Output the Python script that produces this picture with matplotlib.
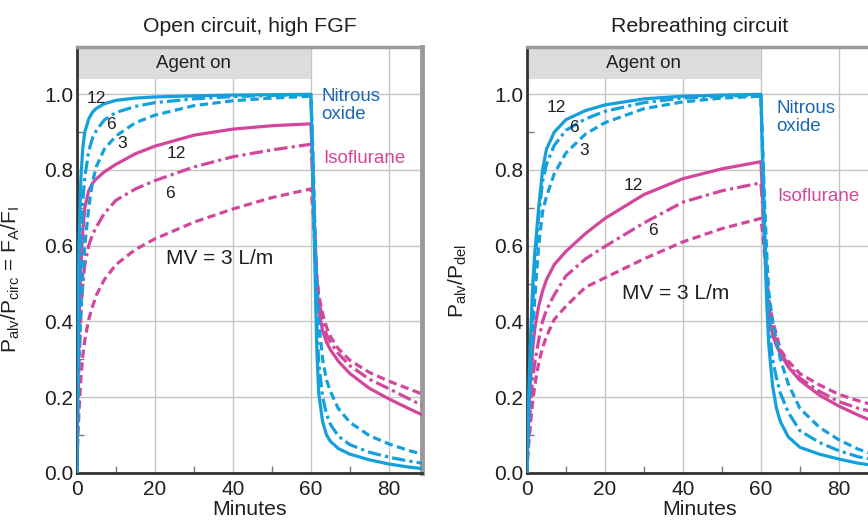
import matplotlib
matplotlib.use("Agg")
import matplotlib.pyplot as plt
from matplotlib.ticker import MultipleLocator

plt.rcParams["font.family"] = ["Liberation Sans", "DejaVu Sans"]
plt.rcParams["mathtext.fontset"] = "custom"
plt.rcParams["mathtext.rm"] = "Liberation Sans"
plt.rcParams["mathtext.it"] = "Liberation Sans:italic"

# minutes: wash-in (agent on until 60) then wash-out
minutes = [0, 0.25, 0.5, 1, 1.5, 2, 3, 4, 5, 7, 10, 15, 20, 30, 40, 50, 60,
           60.5, 61, 61.5, 62, 63, 64, 65, 67, 70, 75, 80, 85, 88.5]

# open circuit, high FGF  (MV = 12, 6, 3 L/min)
open_n2o_12 = [0, 0.42, 0.6, 0.78, 0.86, 0.9, 0.935, 0.953, 0.963, 0.975, 0.984, 0.99, 0.993, 0.996, 0.998, 0.999, 1.0,
               0.8, 0.56, 0.33, 0.21, 0.135, 0.1, 0.083, 0.064, 0.049, 0.034, 0.023, 0.015, 0.011]
open_n2o_6 = [0, 0.3, 0.45, 0.62, 0.72, 0.78, 0.85, 0.885, 0.905, 0.932, 0.952, 0.968, 0.978, 0.988, 0.994, 0.997, 0.999,
              0.82, 0.6, 0.4, 0.29, 0.2, 0.155, 0.128, 0.097, 0.074, 0.054, 0.041, 0.031, 0.025]
open_n2o_3 = [0, 0.2, 0.3, 0.43, 0.53, 0.6, 0.7, 0.77, 0.81, 0.855, 0.89, 0.925, 0.945, 0.97, 0.983, 0.99, 0.995,
              0.85, 0.66, 0.5, 0.4, 0.3, 0.245, 0.215, 0.17, 0.133, 0.098, 0.076, 0.059, 0.049]
open_iso_12 = [0, 0.25, 0.4, 0.55, 0.64, 0.7, 0.745, 0.765, 0.777, 0.795, 0.815, 0.843, 0.863, 0.892, 0.908, 0.917, 0.922,
               0.8, 0.62, 0.5, 0.43, 0.375, 0.345, 0.325, 0.295, 0.262, 0.223, 0.195, 0.17, 0.153]
open_iso_6 = [0, 0.18, 0.28, 0.42, 0.5, 0.55, 0.6, 0.63, 0.65, 0.685, 0.72, 0.75, 0.772, 0.808, 0.835, 0.853, 0.868,
              0.77, 0.63, 0.52, 0.46, 0.4, 0.365, 0.345, 0.315, 0.283, 0.247, 0.222, 0.196, 0.178]
open_iso_3 = [0, 0.1, 0.16, 0.25, 0.31, 0.35, 0.405, 0.44, 0.47, 0.51, 0.55, 0.59, 0.618, 0.662, 0.697, 0.727, 0.75,
              0.7, 0.6, 0.52, 0.47, 0.42, 0.385, 0.36, 0.328, 0.297, 0.265, 0.242, 0.222, 0.208]

# rebreathing circuit
reb_n2o_12 = [0, 0.12, 0.22, 0.38, 0.5, 0.58, 0.7, 0.8, 0.855, 0.9, 0.933, 0.957, 0.972, 0.988, 0.995, 0.998, 1.0,
              0.8, 0.6, 0.45, 0.34, 0.23, 0.17, 0.135, 0.095, 0.067, 0.049, 0.036, 0.025, 0.02]
reb_n2o_6 = [0, 0.1, 0.18, 0.32, 0.44, 0.55, 0.68, 0.77, 0.815, 0.865, 0.905, 0.935, 0.955, 0.978, 0.99, 0.995, 0.998,
             0.82, 0.63, 0.5, 0.4, 0.3, 0.25, 0.21, 0.16, 0.111, 0.08, 0.058, 0.042, 0.035]
reb_n2o_3 = [0, 0.08, 0.15, 0.27, 0.37, 0.46, 0.6, 0.69, 0.73, 0.79, 0.845, 0.895, 0.925, 0.962, 0.98, 0.99, 0.995,
             0.85, 0.7, 0.58, 0.48, 0.4, 0.35, 0.3, 0.235, 0.17, 0.12, 0.087, 0.062, 0.05]
reb_iso_12 = [0, 0.1, 0.17, 0.26, 0.33, 0.38, 0.44, 0.48, 0.51, 0.55, 0.585, 0.632, 0.672, 0.735, 0.777, 0.803, 0.822,
              0.72, 0.6, 0.5, 0.41, 0.365, 0.335, 0.315, 0.28, 0.244, 0.205, 0.176, 0.152, 0.137]
reb_iso_6 = [0, 0.07, 0.12, 0.19, 0.25, 0.29, 0.35, 0.4, 0.43, 0.47, 0.52, 0.565, 0.598, 0.66, 0.715, 0.745, 0.766,
             0.7, 0.6, 0.52, 0.45, 0.38, 0.342, 0.32, 0.285, 0.25, 0.215, 0.188, 0.17, 0.162]
reb_iso_3 = [0, 0.05, 0.08, 0.14, 0.19, 0.23, 0.29, 0.33, 0.36, 0.405, 0.44, 0.49, 0.515, 0.565, 0.61, 0.645, 0.672,
             0.63, 0.57, 0.51, 0.46, 0.4, 0.365, 0.325, 0.295, 0.262, 0.232, 0.207, 0.19, 0.18]

BLUE = "#14a0dc"
BLUE_TXT = "#1a68b3"
PINK = "#d2479b"
TXT = "#231f20"

DASHED = (0, (2.6, 1.4))
DASHDOT = (0, (4.2, 1.3, 1.0, 1.3))


def draw_panel(ax, n2o, iso, title, ylabel, ylabel_xy):
    ax.set_axisbelow(True)
    ax.grid(True, color="#c4c4c4", lw=1)
    ax.fill_between([0, 60], 1.04, 1.13, color="#dcdcdd", lw=0, zorder=1)
    ax.text(30, 1.082, "Agent on", ha="center", va="center", fontsize=13.5, color=TXT, zorder=2)

    for vals, ls in zip(iso, ["-", DASHDOT, DASHED]):
        ax.plot(minutes, vals, color=PINK, lw=2.3, ls=ls, zorder=3)
    for vals, ls in zip(n2o, ["-", DASHDOT, DASHED]):
        ax.plot(minutes, vals, color=BLUE, lw=2.3, ls=ls, zorder=4)

    ax.set_xlim(0, 88.5)
    ax.set_ylim(0, 1.125)
    ax.set_xticks([0, 20, 40, 60, 80])
    ax.set_yticks([0, 0.2, 0.4, 0.6, 0.8, 1.0])
    ax.set_yticklabels(["0.0", "0.2", "0.4", "0.6", "0.8", "1.0"])
    ax.xaxis.set_minor_locator(MultipleLocator(10))
    ax.yaxis.set_minor_locator(MultipleLocator(0.1))
    ax.tick_params(which="major", length=0, labelsize=15, labelcolor=TXT)
    ax.tick_params(axis="y", which="major", pad=2.5)
    ax.tick_params(axis="x", which="major", pad=5)
    ax.tick_params(which="minor", direction="in", length=5, width=1, color="#777777")

    for side in ["left", "bottom"]:
        ax.spines[side].set_color("#333333")
        ax.spines[side].set_linewidth(2)
    ax.spines["top"].set_color("#9a9a9a")
    ax.spines["top"].set_linewidth(2.5)
    ax.spines["right"].set_color("#9a9a9a")
    ax.spines["right"].set_linewidth(3.5)

    ax.set_title(title, fontsize=15.3, color=TXT, pad=11)
    ax.set_xlabel("Minutes", fontsize=15.3, color=TXT, labelpad=1)
    ax.set_ylabel(ylabel, fontsize=15, color=TXT)
    ax.yaxis.set_label_coords(*ylabel_xy)


fig = plt.figure(figsize=(8.68, 5.24), dpi=100)
ax1 = fig.add_axes([0.0887, 0.0979, 0.3975, 0.8124])
ax2 = fig.add_axes([0.6071, 0.0979, 0.3975, 0.8124])

draw_panel(ax1, [open_n2o_12, open_n2o_6, open_n2o_3], [open_iso_12, open_iso_6, open_iso_3],
           "Open circuit, high FGF",
           r"P$_{\rm alv}$/P$_{\rm circ}$ = F$_{\rm A}$/F$_{\rm I}$", (-0.16, 0.453))
draw_panel(ax2, [reb_n2o_12, reb_n2o_6, reb_n2o_3], [reb_iso_12, reb_iso_6, reb_iso_3],
           "Rebreathing circuit",
           r"P$_{\rm alv}$/P$_{\rm del}$", (-0.168, 0.45))

lab = dict(fontsize=12.5, color=TXT, ha="center", va="center", zorder=5)
ax1.text(4.9, 0.988, "12", **lab)
ax1.text(8.7, 0.919, "6", **lab)
ax1.text(11.7, 0.870, "3", **lab)
ax1.text(25.6, 0.844, "12", **lab)
ax1.text(23.8, 0.738, "6", **lab)
ax1.text(36.7, 0.567, "MV = 3 L/m", fontsize=15, color=TXT, ha="center", va="center")
ax1.text(62.7, 0.971, "Nitrous\noxide", fontsize=13.5, color=BLUE_TXT, ha="left", va="center",
         linespacing=1.05)
ax1.text(63.1, 0.83, "Isoflurane", fontsize=13.5, color=PINK, ha="left", va="center")

ax2.text(7.5, 0.966, "12", **lab)
ax2.text(12.1, 0.912, "6", **lab)
ax2.text(14.6, 0.851, "3", **lab)
ax2.text(27.4, 0.760, "12", **lab)
ax2.text(32.3, 0.641, "6", **lab)
ax2.text(38.1, 0.473, "MV = 3 L/m", fontsize=15, color=TXT, ha="center", va="center")
ax2.text(64.0, 0.939, "Nitrous\noxide", fontsize=13.5, color=BLUE_TXT, ha="left", va="center",
         linespacing=1.05)
ax2.text(64.1, 0.729, "Isoflurane", fontsize=13.5, color=PINK, ha="left", va="center")

fig.savefig("out.png", dpi=100)
